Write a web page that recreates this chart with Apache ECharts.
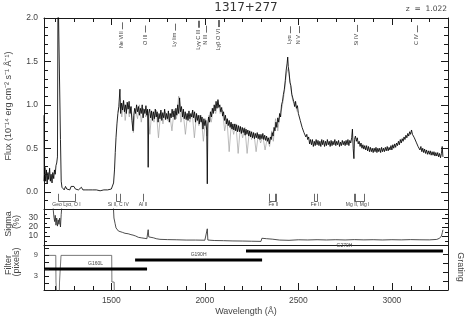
<!DOCTYPE html>
<html><head><meta charset="utf-8">
<script src="https://cdn.jsdelivr.net/npm/echarts@6/dist/echarts.min.js"></script>
<style>html,body{margin:0;padding:0;background:#fff}#c{width:468px;height:318px}</style>
</head><body><div id="c"></div>
<script>
// ---------------- data ----------------
const waveMin = 1140, waveMax = 3300;
const xMinorTicks = [1200,1300,1400,1600,1700,1800,1900,2100,2200,2300,2400,2600,2700,2800,2900,3100,3200,3300];
const xMajorTicks = [1500,2000,2500,3000];
const fluxTicks = [0,0.5,1.0,1.5,2.0];
const fluxMinorTicks = [-0.1,0.1,0.2,0.3,0.4,0.6,0.7,0.8,0.9,1.1,1.2,1.3,1.4,1.6,1.7,1.8,1.9];
const sigmaTicks = [10,20,30];
const sigmaMinorTicks = [5,15,25,35];
const filterLabelTicks = [3,5,7,9];
const filterTicks = [1,3,5,7,9,11];
const gratingTicks = [1,2,3,4];

const fluxBlack = [
[1140,0.88],[1141,0.12],[1145,0.28],[1149,0.12],[1153,0.25],[1157,0.1],[1161,0.22],[1165,0.14],[1170,0.27],[1174,0.12],[1178,0.2],[1183,0.1],[1187,0.22],[1192,0.15],[1196,0.25],[1200,0.2],[1204,0.3],[1208,0.33],[1212,0.4],[1215,2.4],[1224,2.4],[1228,0.6],[1232,0.12],[1236,0.05],
[1240,0.04],[1248,0.02],[1255,0.06],[1262,0.03],[1270,0.05],[1278,0.02],[1285,0.06],[1292,0.04],[1300,0.06],[1308,0.03],[1316,0.05],[1324,0.02],[1332,0.03],[1340,0.05],[1348,0.02],[1356,0.03],[1364,0.02],[1372,0.04],[1380,0.02],[1390,0.03],[1400,0.02],[1410,0.03],[1420,0.02],[1430,0.03],[1440,0.01],[1450,0.02],[1460,0.02],[1470,0.01],[1480,0.02],[1490,0.02],[1500,0.03],[1506,0.05],[1512,0.1],[1517,0.25],[1521,0.45],[1525,0.62],[1530,0.78],[1535,0.9],
[1540,0.98],[1546,1.18],[1550,0.9],[1555,1.02],[1560,0.94],[1565,1.05],[1570,0.92],[1575,1.0],[1580,0.9],[1585,1.03],[1590,0.95],[1595,1.04],[1600,0.9],[1605,0.98],[1610,0.82],[1616,0.7],[1620,0.88],[1625,0.96],[1630,0.9],[1635,1.0],[1640,0.92],[1645,0.98],[1650,0.88],[1655,0.96],[1660,0.9],[1665,1.0],[1670,0.85],[1675,0.95],[1680,0.9],[1685,0.99],[1690,0.88],[1694,0.95],[1697,0.28],[1700,0.9],[1705,0.95],[1710,0.85],[1715,0.93],[1720,0.82],[1725,0.92],[1730,0.84],[1735,0.95],[1740,0.86],[1745,0.92],[1750,0.8],[1755,0.9],[1760,0.84],[1765,0.94],[1770,0.82],[1775,0.91],[1780,0.85],[1785,0.95],[1790,0.83],[1795,0.9],[1800,0.84],[1805,0.93],[1810,0.8],[1815,0.9],[1820,0.85],[1825,0.95],[1830,0.86],[1835,0.93],[1840,0.83],[1845,0.96],[1850,0.88],[1855,1.0],[1860,0.9],[1865,1.08],[1870,0.92],[1875,0.98],[1880,0.86],[1885,0.95],[1890,0.84],[1895,0.92],[1900,0.83],[1905,0.9],[1910,0.82],[1915,0.93],[1920,0.84],[1925,0.9],[1930,0.86],[1935,0.94],[1940,0.85],[1945,0.92],[1950,0.8],[1955,0.9],[1960,0.82],[1965,0.88],[1970,0.78],[1975,0.88],[1980,0.8],[1985,0.86],[1990,0.72],[1995,0.84],[2000,0.76],[2005,0.82],[2010,0.7],[2013,0.09],[2016,0.78],
[2020,0.86],[2025,0.8],[2030,0.92],[2035,0.86],[2040,0.96],[2045,0.9],[2050,1.0],[2055,0.93],[2060,1.04],[2065,0.96],[2070,1.06],[2075,0.97],[2080,1.0],[2085,0.92],[2090,0.97],[2095,0.87],[2100,0.92],[2105,0.82],[2110,0.88],[2115,0.78],[2120,0.84],[2125,0.76],[2130,0.82],[2135,0.74],[2140,0.8],[2145,0.72],[2150,0.78],[2155,0.71],[2160,0.78],[2165,0.7],[2170,0.77],[2175,0.69],[2180,0.76],[2185,0.69],[2190,0.75],[2195,0.67],[2200,0.74],[2205,0.68],[2210,0.73],[2215,0.65],[2220,0.72],[2225,0.66],[2230,0.71],[2235,0.64],[2240,0.7],[2245,0.63],[2250,0.69],[2255,0.62],[2260,0.68],[2265,0.61],[2270,0.67],[2275,0.62],[2280,0.68],[2285,0.61],[2290,0.66],[2295,0.6],[2300,0.66],[2305,0.61],[2310,0.67],[2315,0.6],[2320,0.65],[2325,0.59],[2330,0.64],[2335,0.58],[2340,0.62],[2345,0.55],[2350,0.63],[2355,0.6],
[2360,0.68],[2365,0.64],[2370,0.74],[2375,0.7],[2380,0.8],[2385,0.74],[2390,0.85],[2395,0.8],[2400,0.9],[2405,0.86],[2410,1.0],[2415,1.04],[2420,1.12],[2425,1.18],[2430,1.28],[2435,1.4],[2440,1.48],[2443,1.55],[2446,1.44],[2450,1.38],[2455,1.26],[2460,1.22],[2465,1.12],[2470,1.08],[2475,1.04],[2480,0.98],[2485,1.04],[2490,0.96],[2495,0.99],[2500,0.9],[2505,0.88],[2510,0.82],[2515,0.8],[2520,0.74],[2525,0.75],[2530,0.68],[2535,0.7],[2540,0.63],[2545,0.66],[2550,0.6],[2555,0.63],[2560,0.55],[2565,0.6],[2570,0.54],[2575,0.6],[2580,0.52],[2585,0.58],[2590,0.53],[2595,0.6],[2600,0.54],[2605,0.59],[2610,0.53],[2615,0.58],[2620,0.52],[2625,0.6],[2630,0.54],[2635,0.59],[2640,0.52],[2645,0.58],[2650,0.53],[2655,0.6],[2660,0.54],[2665,0.58],[2670,0.52],[2675,0.59],[2680,0.53],[2685,0.58],[2690,0.54],[2695,0.6],[2700,0.53],[2705,0.58],[2710,0.54],[2715,0.59],[2720,0.52],[2725,0.57],[2730,0.53],[2735,0.59],[2740,0.54],[2745,0.58],[2750,0.53],[2755,0.59],[2760,0.54],[2765,0.6],[2770,0.53],[2775,0.59],[2780,0.56],[2785,0.62],[2789,0.72],[2793,0.5],[2797,0.38],[2800,0.6],[2805,0.64],[2810,0.58],[2815,0.62],[2820,0.55],[2825,0.58],[2830,0.52],[2835,0.56],[2840,0.5],[2845,0.54],[2850,0.49],[2855,0.53],[2860,0.48],[2865,0.53],[2870,0.47],[2875,0.52],[2880,0.46],[2885,0.51],[2890,0.46],[2895,0.5],[2900,0.45],[2905,0.5],[2910,0.46],[2915,0.51],[2920,0.45],[2925,0.5],[2930,0.46],[2935,0.5],[2940,0.45],[2945,0.51],[2950,0.46],[2955,0.5],[2960,0.46],[2965,0.51],[2970,0.47],[2975,0.52],[2980,0.47],[2985,0.51],[2990,0.48],[2995,0.53],[3000,0.48],[3005,0.54],[3010,0.5],[3015,0.55],[3020,0.51],[3025,0.56],[3030,0.53],[3035,0.58],[3040,0.54],[3045,0.6],[3050,0.56],[3055,0.61],[3060,0.58],[3065,0.63],[3070,0.6],[3075,0.65],[3080,0.62],[3085,0.67],[3090,0.64],[3095,0.69],[3100,0.66],[3105,0.71],[3110,0.66],[3115,0.68],[3120,0.62],[3125,0.63],[3130,0.57],[3135,0.58],[3140,0.52],[3145,0.54],[3150,0.48],[3155,0.52],[3160,0.46],[3165,0.5],[3170,0.45],[3175,0.49],[3180,0.44],[3185,0.48],[3190,0.43],[3195,0.47],[3200,0.43],[3205,0.47],[3210,0.42],[3215,0.46],[3220,0.42],[3225,0.46],[3230,0.41],[3235,0.45],[3240,0.41],[3245,0.45],[3250,0.4],[3255,0.44],[3260,0.39],[3265,0.44],[3269,0.52],[3273,0.4]
];

const fluxGray = [
[1536,0.92],[1548,1.02],[1556,0.86],[1566,1.05],[1574,0.82],[1585,1.0],[1596,0.86],[1606,0.98],[1618,0.68],[1628,0.95],[1640,0.84],[1650,1.0],[1660,0.8],[1672,0.96],[1684,0.86],[1694,0.94],[1706,0.66],[1716,0.92],[1728,0.8],[1740,0.94],[1752,0.62],[1764,0.92],[1776,0.78],[1788,0.92],[1800,0.82],[1812,0.9],[1824,0.7],[1836,0.95],[1848,0.84],[1860,1.1],[1872,0.8],[1884,0.92],[1896,0.66],[1908,0.9],[1920,0.8],[1932,0.92],[1944,0.62],[1956,0.9],[1968,0.76],[1980,0.88],[1992,0.58],[2004,0.84],[2010,0.64],[2022,0.88],[2034,0.8],[2046,0.96],[2058,0.9],[2070,1.04],[2082,0.9],[2094,0.94],[2106,0.7],[2118,0.84],[2130,0.46],[2142,0.8],[2154,0.66],[2166,0.78],[2178,0.44],[2190,0.75],[2202,0.62],[2214,0.74],[2226,0.44],[2238,0.7],[2250,0.6],[2262,0.68],[2274,0.46],[2286,0.66],[2298,0.56],[2310,0.64],[2322,0.48],[2334,0.62],[2346,0.52],[2358,0.7],[2366,0.58],[2378,0.84],[2390,0.7],[2402,0.9],[2414,0.98],[2426,1.16],[2436,1.36],[2446,1.42],[2458,1.22],[2470,1.04],[2482,1.02],[2494,0.92]
];

const sigma = [
[1188,45],[1190,38],[1193,31],[1197,26],[1200,33],[1204,22],[1208,30],[1212,21],[1216,28],[1220,23],[1224,30],[1228,20],[1232,34],[1236,45],[1240,60],[1500,60],[1509,50],[1514,30],[1520,24],[1525,19],[1530,17],[1538,15.5],[1546,15],[1560,14],[1573,13],[1590,12.5],[1605,11.5],[1616,11],[1630,10],[1645,8.5],[1660,8],[1675,7.5],[1690,7],[1697,17],[1700,9],[1710,8.5],[1725,8],[1740,7],[1760,6.3],[1800,6],[1850,5.8],[1900,5.5],[1950,5.5],[2000,5.3],[2010,5.5],[2013,18],[2016,5.5],[2050,5],[2100,4.8],[2150,4.5],[2200,4.4],[2250,4.2],[2300,4],[2305,7.5],[2330,7],[2360,6.5],[2400,5.5],[2450,5.2],[2500,5.8],[2550,5.6],[2600,5.9],[2650,5.6],[2700,5.9],[2750,5.6],[2800,6],[2850,5.7],[2900,5.9],[2950,5.6],[3000,5.9],[3050,5.7],[3100,6],[3150,5.8],[3200,5.7],[3240,6.2],[3255,7.5],[3265,10],[3270,14],[3273,17]
];

const filterWidth = [[1140,9],[1203,9],[1204,1.3],[1206,1.3],[1207,-1.5],[1222,-1.5],[1223,1.3],[1230,1.3],[1231,9],[1502,9],[1503,1.3],[1515,1.3],[1516,-1.5]];

const gratingNames = ['G160L','G190H','G270H'];
const gratingStart = [1140,1627,2220];
const gratingEnd = [1691,2306,3273];
const gratingLevel = [2.33,3.33,4.33];

const qsoNames = ['Ne VIII','O III','Ly lim','Lyγ C III','N III','Lyβ O VI','Lyα','N V','Si IV','C IV'];
const qsoWaves = [[1555],[1680],[1840],[1962,1969],[2006],[2068,2078],[2455],[2503],[2813],[3133]];

const galNames = ['Geo Lyα, O I','Si II, C IV','Al II','Fe II','Fe II','Mg II, Mg I'];
const galWaves = [[1216,1304],[1526,1548],[1670],[2344,2374,2382],[2586,2600],[2796,2803,2852]];

// ---------------- chart ----------------
const AX = '#1a1a1a', TX = '#444';
const LF = '"Liberation Sans", Arial, sans-serif';
const ctx = document.createElement('canvas').getContext('2d');
function tw(t, f){ ctx.font = f; return ctx.measureText(t).width; }

const PW = 404;
const G0 = {left:44, top:18, width:PW, height:191};
const G1 = {left:44, top:209, width:PW, height:36};
const G2 = {left:44, top:245, width:PW, height:45};

function xAx(grid, pos, opt){
  return Object.assign({type:'value', gridIndex:grid, position:pos, min:waveMin, max:waveMax,
    axisLine:{show:true, onZero:false, lineStyle:{color:AX, width:1}},
    axisTick:{show:false}, axisLabel:{show:false}, splitLine:{show:false}}, opt||{});
}
function yAx(grid, pos, min, max, opt){
  return Object.assign({type:'value', gridIndex:grid, position:pos, min:min, max:max,
    axisLine:{show:true, onZero:false, lineStyle:{color:AX, width:1}},
    axisTick:{show:false}, axisLabel:{show:false}, splitLine:{show:false}}, opt||{});
}
const lab = (vals, fmt, fs) => ({show:true, customValues:vals, formatter:fmt, margin:6, color:TX, fontSize:fs||8.5, fontFamily:LF, hideOverlap:false, showMinLabel:true, showMaxLabel:true});

const xAxis = [
  xAx(0,'bottom'),
  xAx(0,'top'),
  xAx(1,'bottom'),
  xAx(2,'bottom',{axisLabel:lab(xMajorTicks, v=>String(v))})
];
const yAxis = [
  yAx(0,'left',-0.2,2.0,{axisLabel:lab(fluxTicks, v=>v.toFixed(1))}),
  yAx(0,'right',-0.2,2.0),
  yAx(1,'left',0,40,{axisLabel:lab(sigmaTicks, v=>String(v))}),
  yAx(1,'right',0,40),
  yAx(2,'left',-1,12,{axisLabel:lab(filterLabelTicks, v=>String(v), 7.5)}),
  yAx(2,'right',0,5)
];

const QF = '5.5px ' + LF;
const GF = '5px ' + LF;

const series = [
  {type:'line', name:'gray', xAxisIndex:0, yAxisIndex:0, data:fluxGray, symbol:'none', clip:true,
   lineStyle:{color:'#a0a0a0', width:0.7}, z:2},
  {type:'line', name:'flux', xAxisIndex:0, yAxisIndex:0, data:fluxBlack, symbol:'none', clip:true,
   lineStyle:{color:'#000', width:0.85}, z:3},
  {type:'line', name:'sigma', xAxisIndex:2, yAxisIndex:2, data:sigma, symbol:'none', clip:true,
   lineStyle:{color:'#222', width:0.8}},
  {type:'line', name:'filter', xAxisIndex:3, yAxisIndex:4, data:filterWidth, symbol:'none', clip:true,
   lineStyle:{color:'#555', width:0.8}},
  {type:'custom', xAxisIndex:0, yAxisIndex:0, z:4,
   data: qsoWaves.map(w=>[w[0], 1.75]),
   renderItem:function(params, api){
     const i = params.dataIndex, ws = qsoWaves[i];
     const mean = ws.reduce((a,b)=>a+b,0)/ws.length;
     const c = api.coord([mean, 1.75]);
     const w = tw(qsoNames[i], QF);
     const top = c[1] - w/2 - 2;
     const ch = [{type:'text', x:c[0], y:c[1], rotation:Math.PI/2,
       style:{text:qsoNames[i], x:0, y:0, align:'center', verticalAlign:'middle', textAlign:'center', textVerticalAlign:'middle', font:QF, fill:TX}}];
     ws.forEach(v=>{ const px = Math.round(api.coord([v,0])[0])+0.5;
       ch.push({type:'line', shape:{x1:px, y1:top-7, x2:px, y2:top}, style:{stroke:TX, lineWidth:0.8}}); });
     return {type:'group', children:ch};
   }},
  {type:'custom', xAxisIndex:0, yAxisIndex:0, z:4,
   data: galWaves.map(w=>[w[0], 0]),
   renderItem:function(params, api){
     const i = params.dataIndex, ws = galWaves[i];
     const yT = api.coord([ws[0], -0.025])[1], yB = Math.round(api.coord([ws[0], -0.105])[1])+0.5;
     const xs = ws.map(v=>Math.round(api.coord([v,0])[0])+0.5);
     const ch = [];
     xs.forEach(px=>ch.push({type:'line', shape:{x1:px,y1:yT,x2:px,y2:yB}, style:{stroke:TX, lineWidth:0.8}}));
     if (xs.length>1) ch.push({type:'line', shape:{x1:xs[0],y1:yB,x2:xs[xs.length-1],y2:yB}, style:{stroke:TX, lineWidth:0.8}});
     const mean = ws.reduce((a,b)=>a+b,0)/ws.length;
     const t = api.coord([mean, -0.155]);
     ch.push({type:'text', x:t[0], y:t[1], style:{text:galNames[i], align:'center', verticalAlign:'middle', textAlign:'center', textVerticalAlign:'middle', font:GF, fill:TX}});
     return {type:'group', children:ch};
   }},
  {type:'custom', xAxisIndex:3, yAxisIndex:5, z:4,
   data: gratingNames.map((n,i)=>[gratingStart[i], gratingLevel[i]]),
   renderItem:function(params, api){
     const i = params.dataIndex;
     const a = api.coord([gratingStart[i], gratingLevel[i]]);
     const b = api.coord([gratingEnd[i], gratingLevel[i]]);
     return {type:'group', children:[
       {type:'rect', shape:{x:a[0], y:Math.round(a[1])-1.5, width:b[0]-a[0], height:3}, style:{fill:'#000'}},
       {type:'text', x:(a[0]+b[0])/2, y:a[1]-5, style:{text:gratingNames[i], align:'center', verticalAlign:'middle', textAlign:'center', textVerticalAlign:'middle', font:GF, fill:TX}}
     ]};
   }}
];

const tfont = (s) => s + 'px ' + LF;
const tstyle = (text, font, align) => ({text:text, font:font, fill:TX, align:align||'center', verticalAlign:'middle', textAlign:align||'center', textVerticalAlign:'middle'});
const graphic = [
  {type:'text', x:246, y:8, style:Object.assign(tstyle('1317+277','12px "DejaVu Sans"'),{fill:'#333'})},
  {type:'text', x:447, y:9, style:tstyle('z  =  1.022','7.5px "DejaVu Sans"','right')},
  {type:'text', x:9, y:106, rotation:Math.PI/2, style:tstyle('Flux (10⁻¹⁴ erg cm⁻² s⁻¹ Å⁻¹)', tfont(9))},
  {type:'text', x:8.5, y:224, rotation:Math.PI/2, style:tstyle('Sigma', tfont(9))},
  {type:'text', x:17, y:222, rotation:Math.PI/2, style:tstyle('(%)', tfont(9))},
  {type:'text', x:8.5, y:265, rotation:Math.PI/2, style:tstyle('Filter', tfont(9))},
  {type:'text', x:17, y:262, rotation:Math.PI/2, style:tstyle('(pixels)', tfont(9))},
  {type:'text', x:460, y:267, rotation:-Math.PI/2, style:tstyle('Grating', tfont(9))},
  {type:'text', x:246, y:312, style:tstyle('Wavelength (Å)', tfont(9))}
];

const chart = echarts.init(document.getElementById('c'), null, {renderer:'canvas'});
chart.setOption({
  animation:false,
  backgroundColor:'#fff',
  textStyle:{fontFamily:LF},
  grid:[G0,G1,G2],
  xAxis:xAxis, yAxis:yAxis, series:series, graphic:graphic
});

// tick marks: positions come from the axes' own scales via convertToPixel
const tickEls = [];
function addTicks(xi, yi, vals, side, len, edge){
  vals.forEach(v=>{
    const horiz = (side==='top'||side==='bottom');
    const p = chart.convertToPixel({xAxisIndex:xi, yAxisIndex:yi}, horiz ? [v, edge] : [edge, v]);
    if (!p) return;
    let s;
    if (horiz){ const x = Math.round(p[0])+0.5; s = {x1:x, y1:p[1], x2:x, y2: side==='top' ? p[1]+len : p[1]-len}; }
    else { const y = Math.round(p[1])+0.5; s = {x1:p[0], y1:y, x2: side==='left' ? p[0]+len : p[0]-len, y2:y}; }
    tickEls.push({type:'line', shape:s, style:{stroke:AX, lineWidth:1}, z:100, silent:true});
  });
}
addTicks(0,0,xMinorTicks,'top',4,2.0);
addTicks(0,0,xMajorTicks,'top',7,2.0);
addTicks(0,0,fluxMinorTicks,'left',4,waveMin);
addTicks(0,0,fluxTicks,'left',7,waveMin);
addTicks(0,0,fluxMinorTicks,'right',4,waveMax);
addTicks(0,0,fluxTicks,'right',7,waveMax);
addTicks(2,2,sigmaMinorTicks,'left',3,waveMin);
addTicks(2,2,sigmaTicks,'left',6,waveMin);
addTicks(2,2,sigmaMinorTicks,'right',3,waveMax);
addTicks(2,2,sigmaTicks,'right',6,waveMax);
addTicks(3,4,filterTicks,'left',5,waveMin);
addTicks(3,5,gratingTicks,'right',5,waveMax);
addTicks(3,4,xMinorTicks,'bottom',4,-1);
addTicks(3,4,xMajorTicks,'bottom',7,-1);
chart.setOption({graphic: graphic.concat(tickEls)});
</script></body></html>
